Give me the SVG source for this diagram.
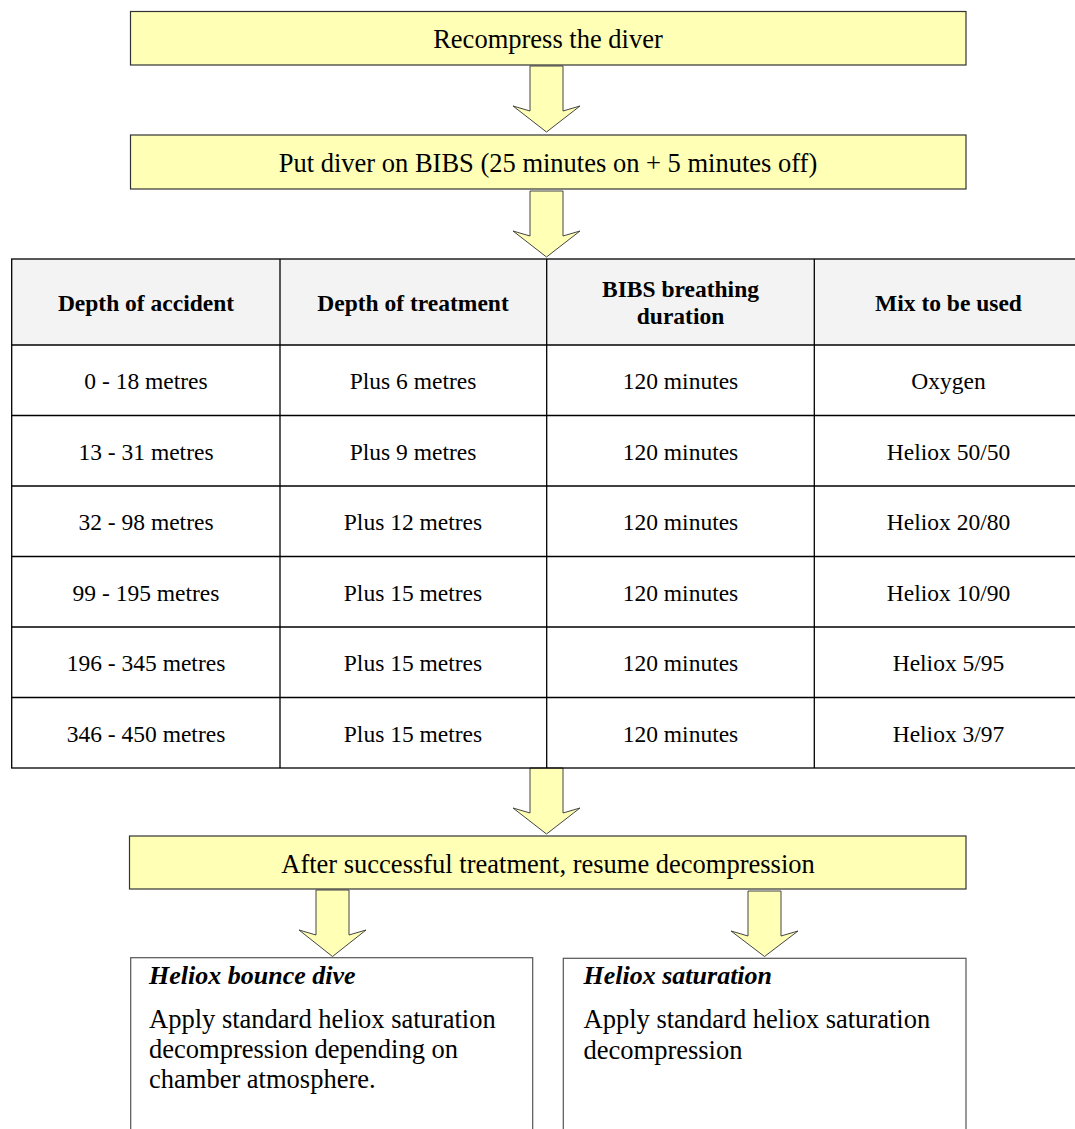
<svg xmlns="http://www.w3.org/2000/svg" width="1075" height="1129" viewBox="0 0 1075 1129">
<style>
.box{fill:#ffffb5;stroke:#333;stroke-width:1.2}
.arrow{fill:#ffffb5;stroke:#444;stroke-width:1}
.panel{fill:#fff;stroke:#555;stroke-width:1.2}
.t{font-family:"Liberation Serif","Times New Roman",serif;fill:#000}
.bt{font-size:26.5px;text-anchor:middle}
.hd{font-size:23.5px;font-weight:bold;text-anchor:middle}
.cell{font-size:23.5px;text-anchor:middle}
.ptitle{font-size:26px;font-weight:bold;font-style:italic}
.pbody{font-size:26.5px}
.grid{stroke:#000;stroke-width:1.3;fill:none}
</style>
<g id="connectors">
<polygon class="arrow" points="530,66 563,66 563,111 580,106 546.5,132 513,106 530,111"/>
<polygon class="arrow" points="530,191 563,191 563,236 580,231 546.5,257 513,231 530,236"/>
<polygon class="arrow" points="530,768 563,768 563,813 580,808 546.5,834 513,808 530,813"/>
<polygon class="arrow" points="316,890 349,890 349,935 366,930 332.5,956.5 299,930 316,935"/>
<polygon class="arrow" points="748,891 781,891 781,936 798,931 764.5,956.5 731,931 748,936"/>
</g>
<g id="recompress">
<rect class="box" x="130.5" y="11.5" width="835.5" height="53.5"/>
<text class="t bt" x="548" y="48">Recompress the diver</text>
</g>
<g id="bibs">
<rect class="box" x="130.5" y="135" width="835.5" height="54"/>
<text class="t bt" x="548" y="172">Put diver on BIBS (25 minutes on + 5 minutes off)</text>
</g>
<g id="table">
<rect x="11.7" y="259" width="1072" height="86" fill="#f3f3f3"/>
<rect class="grid" x="11.7" y="259" width="1072" height="509"/>
<line class="grid" x1="11.7" y1="345" x2="1084" y2="345"/>
<line class="grid" x1="11.7" y1="415.5" x2="1084" y2="415.5"/>
<line class="grid" x1="11.7" y1="486" x2="1084" y2="486"/>
<line class="grid" x1="11.7" y1="556.5" x2="1084" y2="556.5"/>
<line class="grid" x1="11.7" y1="627" x2="1084" y2="627"/>
<line class="grid" x1="11.7" y1="697.5" x2="1084" y2="697.5"/>
<line class="grid" x1="280" y1="259" x2="280" y2="768"/>
<line class="grid" x1="546.7" y1="259" x2="546.7" y2="768"/>
<line class="grid" x1="814.3" y1="259" x2="814.3" y2="768"/>
<text class="t hd" x="146" y="311">Depth of accident</text>
<text class="t hd" x="413" y="311">Depth of treatment</text>
<text class="t hd" x="680.5" y="297">BIBS breathing</text>
<text class="t hd" x="680.5" y="324">duration</text>
<text class="t hd" x="948.5" y="311">Mix to be used</text>
<text class="t cell" x="146" y="389">0 - 18 metres</text>
<text class="t cell" x="413" y="389">Plus 6 metres</text>
<text class="t cell" x="680.5" y="389">120 minutes</text>
<text class="t cell" x="948.5" y="389">Oxygen</text>
<text class="t cell" x="146" y="460">13 - 31 metres</text>
<text class="t cell" x="413" y="460">Plus 9 metres</text>
<text class="t cell" x="680.5" y="460">120 minutes</text>
<text class="t cell" x="948.5" y="460">Heliox 50/50</text>
<text class="t cell" x="146" y="530">32 - 98 metres</text>
<text class="t cell" x="413" y="530">Plus 12 metres</text>
<text class="t cell" x="680.5" y="530">120 minutes</text>
<text class="t cell" x="948.5" y="530">Heliox 20/80</text>
<text class="t cell" x="146" y="601">99 - 195 metres</text>
<text class="t cell" x="413" y="601">Plus 15 metres</text>
<text class="t cell" x="680.5" y="601">120 minutes</text>
<text class="t cell" x="948.5" y="601">Heliox 10/90</text>
<text class="t cell" x="146" y="671">196 - 345 metres</text>
<text class="t cell" x="413" y="671">Plus 15 metres</text>
<text class="t cell" x="680.5" y="671">120 minutes</text>
<text class="t cell" x="948.5" y="671">Heliox 5/95</text>
<text class="t cell" x="146" y="742">346 - 450 metres</text>
<text class="t cell" x="413" y="742">Plus 15 metres</text>
<text class="t cell" x="680.5" y="742">120 minutes</text>
<text class="t cell" x="948.5" y="742">Heliox 3/97</text>
</g>
<g id="resume">
<rect class="box" x="129.5" y="836" width="836.5" height="53"/>
<text class="t bt" x="548" y="873">After successful treatment, resume decompression</text>
</g>
<g id="bounce">
<rect class="panel" x="130.7" y="957.7" width="402" height="200"/>
<text class="t ptitle" x="149" y="984">Heliox bounce dive</text>
<text class="t pbody" x="149" y="1028">Apply standard heliox saturation</text>
<text class="t pbody" x="149" y="1058">decompression depending on</text>
<text class="t pbody" x="149" y="1088">chamber atmosphere.</text>
</g>
<g id="saturation">
<rect class="panel" x="563.3" y="958.3" width="402.7" height="200"/>
<text class="t ptitle" x="583.5" y="984">Heliox saturation</text>
<text class="t pbody" x="583.5" y="1028">Apply standard heliox saturation</text>
<text class="t pbody" x="583.5" y="1059">decompression</text>
</g>
</svg>
